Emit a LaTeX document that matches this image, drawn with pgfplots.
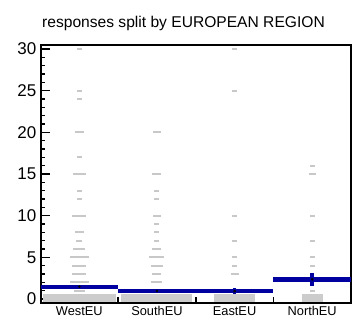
\documentclass[border=0pt]{standalone}
\usepackage{pgfplots}
\pgfplotsset{compat=1.18}
\usepackage{fontspec}
\setmainfont{Liberation Sans}
\definecolor{meanblue}{RGB}{0,0,160}
\definecolor{dashgray}{RGB}{200,200,200}
\definecolor{zerogray}{RGB}{204,204,204}
\begin{document}
\begin{tikzpicture}
\useasboundingbox (-40.5pt,-22.5pt) rectangle (315.5pt,302.5pt);
\begin{axis}[
  scale only axis, width=310.5pt, height=257.5pt,
  at={(0pt,0pt)}, anchor=south west,
  xmin=-0.5, xmax=3.5, ymin=-0.42, ymax=30.48,
  axis line style={line width=2pt},
  tick align=inside,
  ytick={0,5,...,30}, minor y tick num=4, ytick pos=left,
  xtick={0.5,1.5,2.5}, xticklabels={}, xtick pos=bottom,
  major tick length=9pt, minor tick length=4.5pt,
  every tick/.style={black, line width=1.6pt},
  xtick style={/pgfplots/major tick length=6pt},
  extra x ticks={0,1,2,3},
  extra x tick labels={WestEU,SouthEU,EastEU,NorthEU},
  extra x tick style={/pgfplots/major tick length=0pt},
  yticklabel style={font=\fontsize{17}{17}\selectfont, inner sep=0pt, xshift=-4pt},
  xticklabel style={font=\fontsize{12.8}{12.8}\selectfont, inner sep=0pt, yshift=-3.5pt},
  /pgf/number format/assume math mode=true,
  clip=true,
]
% value strips (gray dashes): x, y, half-width
\addplot[no marks, draw=none, forget plot,
  error bars/.cd, x dir=both, x explicit,
  error bar style={dashgray, line width=2pt}, error mark=none]
  table[x=x, y=y, x error=e] {
x y e
0 30 0.032
0 25 0.032
0 24 0.032
0 20 0.058
0 17 0.032
0 15 0.084
0 13 0.032
0 12 0.032
0 10 0.090
0 8 0.058
0 7 0.039
0 6 0.077
0 5 0.122
0 4 0.090
0 3 0.090
0 2 0.122
0 1 0.071
1 20 0.052
1 15 0.058
1 13 0.032
1 12 0.032
1 10 0.052
1 9 0.032
1 8 0.032
1 7 0.032
1 6 0.058
1 5 0.097
1 4 0.077
1 3 0.058
1 2 0.071
1 1 0.090
2 30 0.032
2 25 0.032
2 10 0.032
2 7 0.032
2 5 0.032
2 4 0.032
2 3 0.052
3 16 0.032
3 15 0.045
3 10 0.032
3 7 0.032
3 5 0.032
3 4 0.032
3 1 0.032
};
% zero blocks
\addplot[no marks, draw=none, forget plot,
  error bars/.cd, x dir=both, x explicit,
  error bar style={zerogray, line width=7.7pt}, error mark=none]
  table[x=x, y=y, x error=e] {
x y e
0 0.14 0.47
1 0.14 0.457
2 0.14 0.264
3 0.14 0.135
};
% means
\addplot[meanblue, line width=4.3pt, forget plot] coordinates {(-0.5,1.48) (0.5,1.48)};
\addplot[meanblue, line width=4.3pt, forget plot] coordinates {(0.5,0.97) (1.5,0.97)};
\addplot[meanblue, line width=4.3pt, forget plot] coordinates {(1.5,0.95) (2.5,0.95)};
\addplot[meanblue, line width=4.3pt, forget plot] coordinates {(2.5,2.35) (3.5,2.35)};
% confidence intervals
\addplot[no marks, draw=none, forget plot,
  error bars/.cd, y dir=both, y explicit,
  error bar style={meanblue, line width=3.6pt}, error mark=none]
  coordinates {(0,1.48) +- (0,0.2) (1,0.97) +- (0,0.18) (2,0.95) +- (0,0.33) (3,2.35) +- (0,0.73)};
\addplot[only marks, mark=*, mark size=1.1pt, black, forget plot]
  coordinates {(0,1.48) (1,0.97) (2,0.95) (3,2.35)};
\end{axis}
\node[anchor=base, font=\fontsize{15.6}{15.6}\selectfont] at (143pt,275.5pt) {responses split by EUROPEAN REGION};
\end{tikzpicture}
\end{document}
